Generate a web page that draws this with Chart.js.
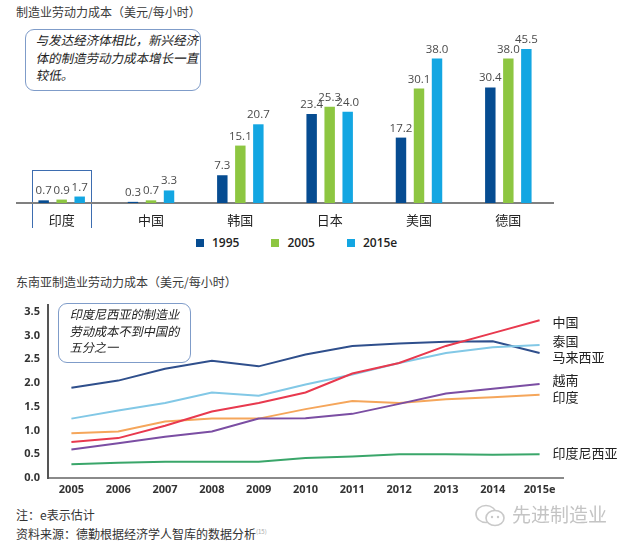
<!DOCTYPE html>
<html>
<head>
<meta charset="utf-8">
<script src="https://cdn.jsdelivr.net/npm/chart.js@4.4.1/dist/chart.umd.min.js"></script>
<style>
    body { margin: 0; background: #fff; width: 640px; height: 548px; overflow: hidden; position: relative;
           font-family: "Open Sans", "Noto Sans CJK SC", sans-serif; color: #333; }
    .abs { position: absolute; }
    .title { font-family: "Noto Sans CJK SC", sans-serif; font-size: 12px; line-height: 16px; color: #3a3a3a; white-space: nowrap; }
    .callout { border: 1.6px solid #7f9cc9; border-radius: 9px; box-sizing: border-box;
               font-family: "Noto Sans CJK SC", sans-serif; color: #222; white-space: nowrap; }
    .callout div { transform: skewX(-12deg); transform-origin: 0 100%; }
    .legend { font-family: "Open Sans", sans-serif; font-weight: 600; font-size: 12px; color: #222; top: 235px; line-height: 16px; }
    .legend span.box { display: inline-block; width: 8px; height: 8px; margin-right: 8px; vertical-align: 0px; }
    .note { font-family: "Noto Sans CJK SC", sans-serif; font-size: 12px; line-height: 16px; color: #333; white-space: nowrap; }
</style>
</head>
<body>

<div class="abs title" style="left:16px; top:4px;">制造业劳动力成本（美元/每小时）</div>
<div class="abs callout" style="left:25px; top:29px; width:176px; height:62px; padding:1px 0 0 9px; font-size:12.5px; line-height:17.5px;">
    <div>与发达经济体相比，新兴经济</div><div>体的制造劳动力成本增长一直</div><div>较低。</div>
</div>
<div class="abs" style="left:32px; top:170px; width:60px; height:58px; border:1.5px solid #3d6db0; border-bottom:none; box-sizing:border-box;"></div>

<div class="abs" style="left:0; top:0;"><canvas id="barChart" width="640" height="232"></canvas></div>

<div class="abs legend" id="barLegend" style="left:196px;"></div>

<div class="abs title" style="left:16px; top:274px;">东南亚制造业劳动力成本（美元/每小时）</div>

<div class="abs" style="left:0; top:290px;"><canvas id="lineChart" width="640" height="215"></canvas></div>

<div class="abs callout" style="left:58px; top:303px; width:133px; height:60px; padding:2px 0 0 10px; font-size:12.2px; line-height:16.5px;">
    <div>印度尼西亚的制造业</div><div>劳动成本不到中国的</div><div>五分之一</div>
</div>

<div class="abs note" style="left:16px; top:507px;">注：e表示估计</div>
<div class="abs note" style="left:16px; top:524px;">资料来源：德勤根据经济学人智库的数据分析<sup style="font-size:6px; color:#aaa;">(15)</sup></div>

<div class="abs" style="left:474px; top:503px;">
    <svg width="34" height="26" viewBox="0 0 34 26">
        <ellipse cx="12" cy="11" rx="10" ry="8.5" fill="none" stroke="#c9c9c9" stroke-width="1.6"/>
        <ellipse cx="21" cy="15" rx="9" ry="7.5" fill="#fff" stroke="#c9c9c9" stroke-width="1.6"/>
        <circle cx="18" cy="14" r="1.2" fill="#c9c9c9"/>
        <circle cx="24" cy="14" r="1.2" fill="#c9c9c9"/>
    </svg>
</div>
<div class="abs" style="left:512px; top:502px; font-family:'Noto Sans CJK SC',sans-serif; font-size:19px; line-height:24px; color:#c4c4c4; white-space:nowrap;">先进制造业</div>

<script>
// ---- bar chart data ----
const barCategories = ['印度', '中国', '韩国', '日本', '美国', '德国'];
const barSeriesNames = ['1995', '2005', '2015e'];
const cost1995 = [0.7, 0.3, 7.3, 23.4, 17.2, 30.4];
const cost2005 = [0.9, 0.7, 15.1, 25.3, 30.1, 38.0];
const cost2015e = [1.7, 3.3, 20.7, 24.0, 38.0, 45.5];
const barColors = ['#064c91', '#8dc641', '#13a6e2'];

// ---- line chart data ----
const years = ['2005', '2006', '2007', '2008', '2009', '2010', '2011', '2012', '2013', '2014', '2015e'];
const lineNames = ['中国', '泰国', '马来西亚', '越南', '印度', '印度尼西亚'];
const chinaCost = [0.76, 0.84, 1.10, 1.40, 1.58, 1.80, 2.20, 2.42, 2.78, 3.05, 3.32];
const thailandCost = [1.25, 1.42, 1.58, 1.80, 1.73, 1.97, 2.18, 2.42, 2.63, 2.75, 2.80];
const malaysiaCost = [1.90, 2.05, 2.30, 2.47, 2.35, 2.60, 2.78, 2.83, 2.87, 2.88, 2.63];
const vietnamCost = [0.60, 0.73, 0.87, 0.98, 1.25, 1.26, 1.35, 1.56, 1.78, 1.88, 1.98];
const indiaCost = [0.94, 0.98, 1.19, 1.25, 1.25, 1.45, 1.62, 1.58, 1.66, 1.70, 1.75];
const indonesiaCost = [0.29, 0.32, 0.34, 0.34, 0.34, 0.42, 0.45, 0.50, 0.50, 0.49, 0.50];
const yTicks = [0, 0.5, 1.0, 1.5, 2.0, 2.5, 3.0, 3.5];
const lineColors = ['#e8394e', '#82c8e6', '#2f4f8c', '#7b4ea3', '#f5a65b', '#3aa66a'];
const labelNudge = [1.5, -3.5, 4, -4, 2, -1];

const cjk = '"Noto Sans CJK SC", sans-serif';
const num = '"Open Sans", sans-serif';

// value labels above bars (clamped to the top of the plot)
const barValueLabels = {
    id: 'barValueLabels',
    afterDatasetsDraw(chart) {
        const ctx = chart.ctx;
        const top = chart.chartArea.top;
        ctx.save();
        ctx.font = '11.5px ' + num;
        ctx.fillStyle = '#4a4a4a';
        ctx.textAlign = 'center';
        ctx.textBaseline = 'alphabetic';
        chart.data.datasets.forEach((ds, i) => {
            chart.getDatasetMeta(i).data.forEach((bar, j) => {
                const y = Math.max(bar.y, top);
                ctx.fillText(ds.data[j].toFixed(1), bar.x, y - 6);
            });
        });
        ctx.restore();
    }
};

new Chart(document.getElementById('barChart'), {
    type: 'bar',
    data: {
        labels: barCategories,
        datasets: [
            { label: barSeriesNames[0], data: cost1995, backgroundColor: barColors[0] },
            { label: barSeriesNames[1], data: cost2005, backgroundColor: barColors[1] },
            { label: barSeriesNames[2], data: cost2015e, backgroundColor: barColors[2] }
        ]
    },
    options: {
        responsive: false,
        animation: false,
        categoryPercentage: 0.605,
        barPercentage: 0.58,
        layout: { padding: { left: 17, right: 87, top: 49, bottom: 0 } },
        plugins: { legend: { display: false }, tooltip: { enabled: false } },
        scales: {
            x: {
                grid: { display: false, drawTicks: false },
                border: { display: true, color: '#808080', width: 2 },
                ticks: { font: { size: 13, family: cjk }, color: '#222', padding: 9 },
                afterFit: s => { s.height = 29; }
            },
            y: { display: false, min: 0, max: 40.5 }
        }
    },
    plugins: [barValueLabels]
});

// html legend for the bar chart
document.getElementById('barLegend').innerHTML = barSeriesNames.map((n, i) =>
    `<span style="margin-right:${i < 2 ? 32 : 0}px"><span class="box" style="background:${barColors[i]}"></span>${n}</span>`
).join('');

// series names at the right end of each line
const endLabels = {
    id: 'endLabels',
    afterDatasetsDraw(chart) {
        const ctx = chart.ctx;
        ctx.save();
        ctx.font = '13px ' + cjk;
        ctx.fillStyle = '#222';
        ctx.textAlign = 'left';
        ctx.textBaseline = 'middle';
        chart.data.datasets.forEach((ds, i) => {
            const pts = chart.getDatasetMeta(i).data;
            const last = pts[pts.length - 1];
            ctx.fillText(ds.label, last.x + 13, last.y + labelNudge[i]);
        });
        ctx.restore();
    }
};

const lineSeries = [chinaCost, thailandCost, malaysiaCost, vietnamCost, indiaCost, indonesiaCost];

new Chart(document.getElementById('lineChart'), {
    type: 'line',
    data: {
        labels: years,
        datasets: lineSeries.map((d, i) => ({
            label: lineNames[i],
            data: d,
            borderColor: lineColors[i],
            borderWidth: 2,
            pointRadius: 0,
            tension: 0,
            fill: false
        }))
    },
    options: {
        responsive: false,
        animation: false,
        layout: { padding: { left: 0, right: 77, top: 13, bottom: 9 } },
        plugins: { legend: { display: false }, tooltip: { enabled: false } },
        scales: {
            x: {
                offset: true,
                grid: { display: false, drawTicks: false },
                border: { display: true, color: '#8a8a8a', width: 2 },
                ticks: { font: { size: 11, weight: 'bold', family: num }, color: '#333', padding: 5, maxRotation: 0 },
                afterFit: s => { s.height = 18; }
            },
            y: {
                min: 0, max: 3.65,
                grid: { display: false, drawTicks: false },
                border: { display: true, color: '#555', width: 2 },
                afterBuildTicks: s => { s.ticks = yTicks.map(v => ({ value: v })); },
                ticks: { font: { size: 11, weight: 'bold', family: num }, color: '#333', padding: 8,
                         callback: v => Number(v).toFixed(1) },
                afterFit: s => { s.width = 48; }
            }
        }
    },
    plugins: [endLabels]
});
</script>
</body>
</html>
